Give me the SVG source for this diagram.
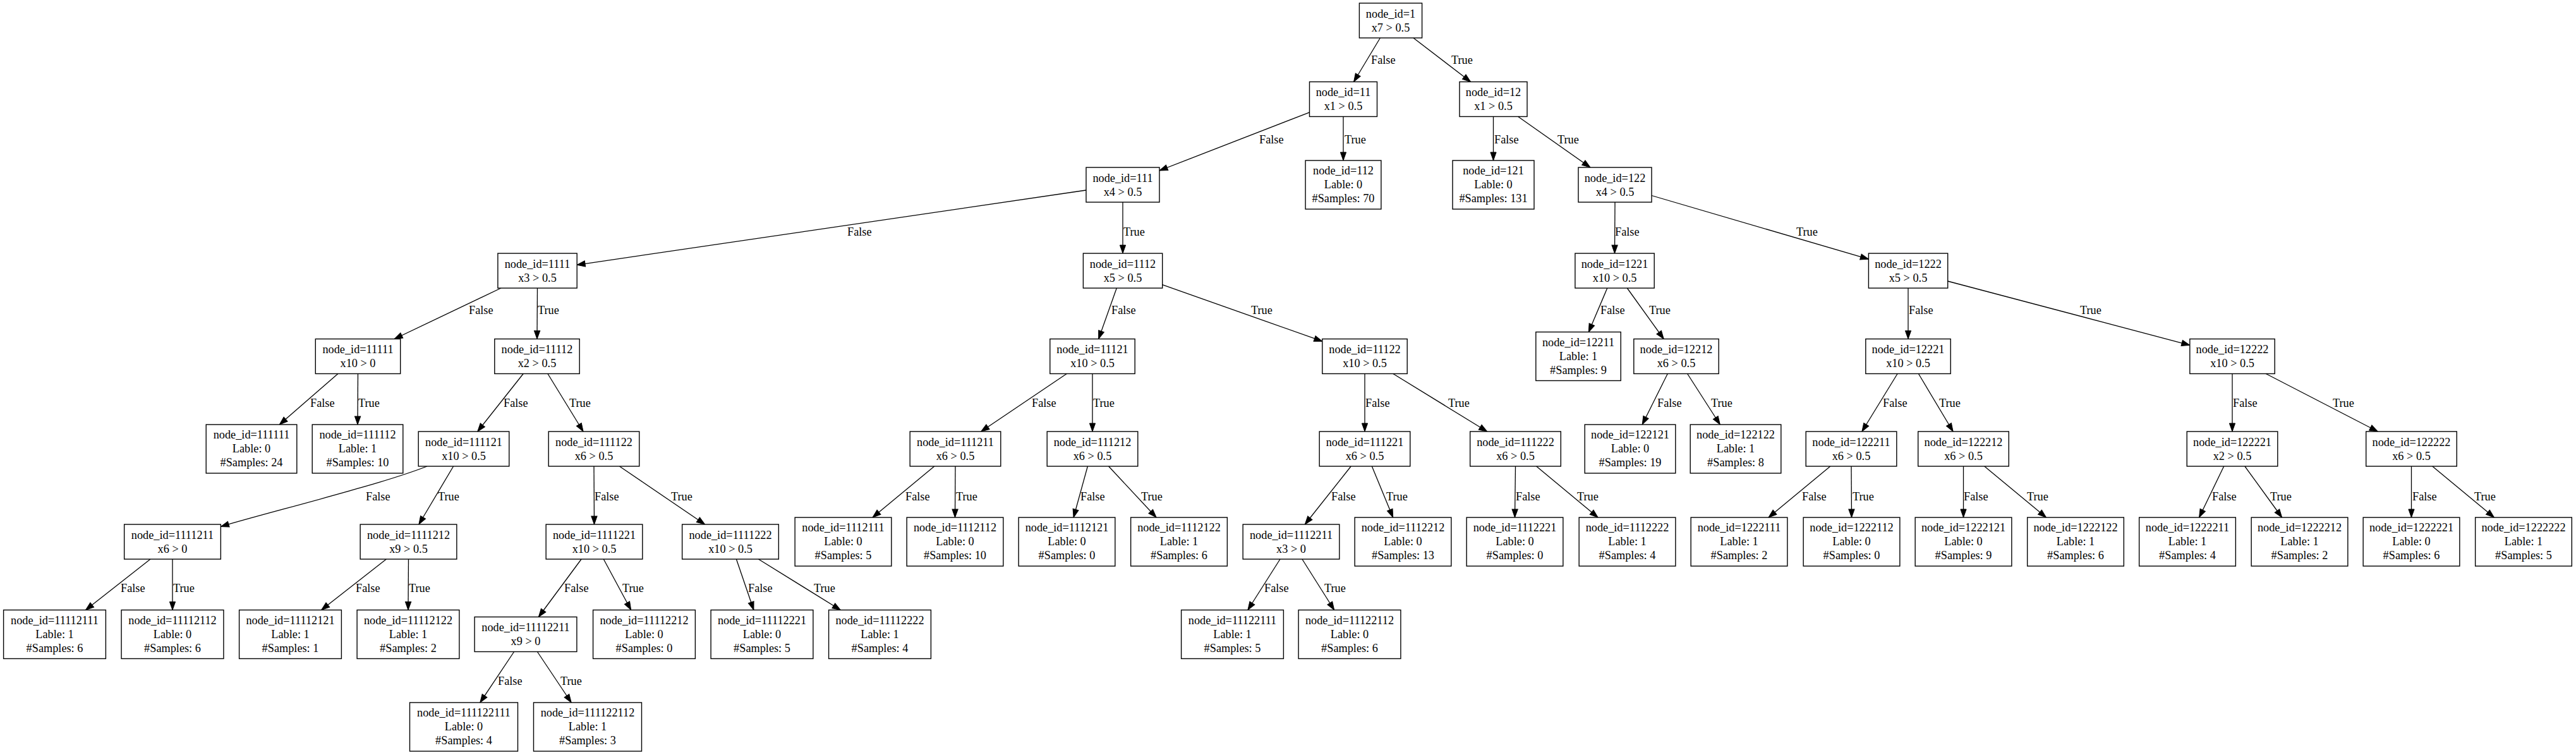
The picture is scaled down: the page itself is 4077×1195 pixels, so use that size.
<svg xmlns="http://www.w3.org/2000/svg" width="4077" height="1195" viewBox="0 0 4077 1195">
<style>
.nd rect{fill:#fff;stroke:#000;stroke-width:1.4}
text{font-family:"Liberation Serif","Times New Roman",serif;font-size:18.27px;fill:#000}
.nd text{text-anchor:middle}
.e line,.e path{stroke:#000;stroke-width:1.3;fill:none;marker-end:url(#ah)}
.e text{text-anchor:start}
</style>
<defs>
<marker id="ah" markerUnits="userSpaceOnUse" markerWidth="14" markerHeight="10" refX="13" refY="5" orient="auto" overflow="visible">
<path d="M0,0.4 L13,5 L0,9.6 z" fill="#000" stroke="#000" stroke-width="1"/>
</marker>
</defs>
<rect width="4077" height="1195" fill="#fff"/>
<g id="edges" class="e">
<line x1="2184.4" y1="60" x2="2142.6" y2="129.5"/><text x="2170" y="101">False</text>
<line x1="2236.9" y1="60" x2="2327.6" y2="129.5"/><text x="2297" y="101">True</text>
<line x1="2072.5" y1="177.8" x2="1835" y2="270"/><text x="1993" y="227">False</text>
<line x1="2126" y1="184.5" x2="2126" y2="254"/><text x="2128" y="227">True</text>
<line x1="2363.5" y1="184.5" x2="2363.5" y2="254"/><text x="2365" y="227">False</text>
<line x1="2402.6" y1="184.5" x2="2516.9" y2="265"/><text x="2465" y="227">True</text>
<line x1="1719" y1="301" x2="913.1" y2="419.3"/><text x="1341" y="373">False</text>
<line x1="1777" y1="320" x2="1777" y2="401"/><text x="1778" y="373">True</text>
<line x1="2556" y1="320" x2="2555.5" y2="401"/><text x="2556" y="373">False</text>
<line x1="2614" y1="309.5" x2="2957.4" y2="410.2"/><text x="2843" y="373">True</text>
<line x1="792.9" y1="456" x2="624.1" y2="536.5"/><text x="742" y="497">False</text>
<line x1="850.5" y1="456" x2="850" y2="536.5"/><text x="851" y="497">True</text>
<line x1="1767.3" y1="456" x2="1738.7" y2="536.5"/><text x="1759" y="497">False</text>
<line x1="1839.6" y1="450.6" x2="2092.8" y2="540.2"/><text x="1980" y="497">True</text>
<line x1="2543.8" y1="456" x2="2514.3" y2="525.5"/><text x="2533" y="497">False</text>
<line x1="2575.3" y1="456" x2="2633.2" y2="536.5"/><text x="2610" y="497">True</text>
<line x1="3020" y1="456" x2="3020" y2="536.5"/><text x="3021" y="497">False</text>
<line x1="3082.6" y1="445" x2="3465.8" y2="546.3"/><text x="3292" y="497">True</text>
<line x1="534.9" y1="591.5" x2="442.3" y2="672"/><text x="491" y="644">False</text>
<line x1="566.5" y1="591.5" x2="566" y2="672"/><text x="567" y="644">True</text>
<line x1="828.2" y1="591.5" x2="755.8" y2="683"/><text x="797" y="644">False</text>
<line x1="866.9" y1="591.5" x2="923.1" y2="683"/><text x="901" y="644">True</text>
<line x1="1688.3" y1="591.5" x2="1552.7" y2="683"/><text x="1633" y="644">False</text>
<line x1="1729" y1="591.5" x2="1729" y2="683"/><text x="1730" y="644">True</text>
<line x1="2160" y1="591.5" x2="2160" y2="683"/><text x="2161" y="644">False</text>
<line x1="2204.8" y1="591.5" x2="2353.7" y2="683"/><text x="2292" y="644">True</text>
<line x1="2639.3" y1="591.5" x2="2599.2" y2="672"/><text x="2623" y="644">False</text>
<line x1="2670.6" y1="591.5" x2="2722.3" y2="672"/><text x="2708" y="644">True</text>
<line x1="3003.1" y1="591.5" x2="2946.9" y2="683"/><text x="2980" y="644">False</text>
<line x1="3036.4" y1="591.5" x2="3091.1" y2="683"/><text x="3069" y="644">True</text>
<line x1="3533" y1="591.5" x2="3533" y2="683"/><text x="3534" y="644">False</text>
<line x1="3586.2" y1="591.5" x2="3763.3" y2="683"/><text x="3692" y="644">True</text>
<path d="M676,738 C600,768 420,812 349.4,833.5"/><text x="579" y="792">False</text>
<line x1="717.6" y1="738" x2="662.9" y2="830"/><text x="693" y="792">True</text>
<line x1="940" y1="738" x2="940.5" y2="830"/><text x="941" y="792">False</text>
<line x1="980.4" y1="738" x2="1115.6" y2="830"/><text x="1062" y="792">True</text>
<line x1="1478.8" y1="738" x2="1381" y2="819"/><text x="1433" y="792">False</text>
<line x1="1512" y1="738" x2="1511.5" y2="819"/><text x="1513" y="792">True</text>
<line x1="1721.4" y1="738" x2="1699.1" y2="819"/><text x="1710" y="792">False</text>
<line x1="1754.6" y1="738" x2="1830.1" y2="819"/><text x="1806" y="792">True</text>
<line x1="2138.2" y1="738" x2="2065.3" y2="830"/><text x="2107" y="792">False</text>
<line x1="2171.3" y1="738" x2="2204.7" y2="819"/><text x="2194" y="792">True</text>
<line x1="2398.5" y1="738" x2="2397.5" y2="819"/><text x="2399" y="792">False</text>
<line x1="2431.6" y1="738" x2="2529.1" y2="819"/><text x="2496" y="792">True</text>
<line x1="2896.8" y1="738" x2="2799" y2="819"/><text x="2852" y="792">False</text>
<line x1="2930" y1="738" x2="2930.5" y2="819"/><text x="2932" y="792">True</text>
<line x1="3107.5" y1="738" x2="3107.5" y2="819"/><text x="3108" y="792">False</text>
<line x1="3140.7" y1="738" x2="3238.5" y2="819"/><text x="3208" y="792">True</text>
<line x1="3519.7" y1="738" x2="3480.6" y2="819"/><text x="3501" y="792">False</text>
<line x1="3552.9" y1="738" x2="3611.6" y2="819"/><text x="3593" y="792">True</text>
<line x1="3816.5" y1="738" x2="3816.5" y2="819"/><text x="3818" y="792">False</text>
<line x1="3849.7" y1="738" x2="3947.5" y2="819"/><text x="3916" y="792">True</text>
<line x1="238" y1="885" x2="135.5" y2="965.5"/><text x="191" y="937">False</text>
<line x1="273" y1="885" x2="273" y2="965.5"/><text x="274" y="937">True</text>
<line x1="611.4" y1="885" x2="508.6" y2="965.5"/><text x="563" y="937">False</text>
<line x1="646.5" y1="885" x2="646" y2="965.5"/><text x="647" y="937">True</text>
<line x1="920.1" y1="885" x2="852.4" y2="976.5"/><text x="893" y="937">False</text>
<line x1="955.3" y1="885" x2="998.7" y2="965.5"/><text x="985" y="937">True</text>
<line x1="1165.4" y1="885" x2="1192.9" y2="965.5"/><text x="1184" y="937">False</text>
<line x1="1200.4" y1="885" x2="1330.3" y2="965.5"/><text x="1288" y="937">True</text>
<line x1="2026" y1="885" x2="1974.9" y2="965.5"/><text x="2001" y="937">False</text>
<line x1="2060.9" y1="885" x2="2111.7" y2="965.5"/><text x="2096" y="937">True</text>
<line x1="813.6" y1="1031.5" x2="759.8" y2="1112"/><text x="788" y="1084">False</text>
<line x1="850.4" y1="1031.5" x2="904.2" y2="1112"/><text x="887" y="1084">True</text>
</g>
<g class="nd">
<g id="n1" transform="translate(2201,32.5)"><rect x="-49.6" y="-27.5" width="99.2" height="55"/><text y="-5">node_id=1</text><text y="17">x7 &gt; 0.5</text></g>
<g id="n11" transform="translate(2126,157)"><rect x="-53.5" y="-27.5" width="107" height="55"/><text y="-5">node_id=11</text><text y="17">x1 &gt; 0.5</text></g>
<g id="n12" transform="translate(2363.5,157)"><rect x="-53.5" y="-27.5" width="107" height="55"/><text y="-5">node_id=12</text><text y="17">x1 &gt; 0.5</text></g>
<g id="n111" transform="translate(1777,292.5)"><rect x="-58" y="-27.5" width="116" height="55"/><text y="-5">node_id=111</text><text y="17">x4 &gt; 0.5</text></g>
<g id="n112" transform="translate(2126,292.5)"><rect x="-59.9" y="-38.5" width="119.8" height="77"/><text y="-16.2">node_id=112</text><text y="5.7">Lable: 0</text><text y="27.6">#Samples: 70</text></g>
<g id="n121" transform="translate(2363.5,292.5)"><rect x="-64.5" y="-38.5" width="129" height="77"/><text y="-16.2">node_id=121</text><text y="5.7">Lable: 0</text><text y="27.6">#Samples: 131</text></g>
<g id="n122" transform="translate(2556,292.5)"><rect x="-58" y="-27.5" width="116" height="55"/><text y="-5">node_id=122</text><text y="17">x4 &gt; 0.5</text></g>
<g id="n1111" transform="translate(850.5,428.5)"><rect x="-62.6" y="-27.5" width="125.3" height="55"/><text y="-5">node_id=1111</text><text y="17">x3 &gt; 0.5</text></g>
<g id="n1112" transform="translate(1777,428.5)"><rect x="-62.6" y="-27.5" width="125.3" height="55"/><text y="-5">node_id=1112</text><text y="17">x5 &gt; 0.5</text></g>
<g id="n1221" transform="translate(2555.5,428.5)"><rect x="-62.6" y="-27.5" width="125.3" height="55"/><text y="-5">node_id=1221</text><text y="17">x10 &gt; 0.5</text></g>
<g id="n1222" transform="translate(3020,428.5)"><rect x="-62.6" y="-27.5" width="125.3" height="55"/><text y="-5">node_id=1222</text><text y="17">x5 &gt; 0.5</text></g>
<g id="n11111" transform="translate(566.5,564)"><rect x="-67.2" y="-27.5" width="134.4" height="55"/><text y="-5">node_id=11111</text><text y="17">x10 &gt; 0</text></g>
<g id="n11112" transform="translate(850,564)"><rect x="-67.2" y="-27.5" width="134.4" height="55"/><text y="-5">node_id=11112</text><text y="17">x2 &gt; 0.5</text></g>
<g id="n11121" transform="translate(1729,564)"><rect x="-67.2" y="-27.5" width="134.4" height="55"/><text y="-5">node_id=11121</text><text y="17">x10 &gt; 0.5</text></g>
<g id="n11122" transform="translate(2160,564)"><rect x="-67.2" y="-27.5" width="134.4" height="55"/><text y="-5">node_id=11122</text><text y="17">x10 &gt; 0.5</text></g>
<g id="n12211" transform="translate(2498,564)"><rect x="-67.2" y="-38.5" width="134.4" height="77"/><text y="-16.2">node_id=12211</text><text y="5.7">Lable: 1</text><text y="27.6">#Samples: 9</text></g>
<g id="n12212" transform="translate(2653,564)"><rect x="-67.2" y="-27.5" width="134.4" height="55"/><text y="-5">node_id=12212</text><text y="17">x6 &gt; 0.5</text></g>
<g id="n12221" transform="translate(3020,564)"><rect x="-67.2" y="-27.5" width="134.4" height="55"/><text y="-5">node_id=12221</text><text y="17">x10 &gt; 0.5</text></g>
<g id="n12222" transform="translate(3533,564)"><rect x="-67.2" y="-27.5" width="134.4" height="55"/><text y="-5">node_id=12222</text><text y="17">x10 &gt; 0.5</text></g>
<g id="n111111" transform="translate(398,710.5)"><rect x="-71.8" y="-38.5" width="143.6" height="77"/><text y="-16.2">node_id=111111</text><text y="5.7">Lable: 0</text><text y="27.6">#Samples: 24</text></g>
<g id="n111112" transform="translate(566,710.5)"><rect x="-71.8" y="-38.5" width="143.6" height="77"/><text y="-16.2">node_id=111112</text><text y="5.7">Lable: 1</text><text y="27.6">#Samples: 10</text></g>
<g id="n111121" transform="translate(734,710.5)"><rect x="-71.8" y="-27.5" width="143.6" height="55"/><text y="-5">node_id=111121</text><text y="17">x10 &gt; 0.5</text></g>
<g id="n111122" transform="translate(940,710.5)"><rect x="-71.8" y="-27.5" width="143.6" height="55"/><text y="-5">node_id=111122</text><text y="17">x6 &gt; 0.5</text></g>
<g id="n111211" transform="translate(1512,710.5)"><rect x="-71.8" y="-27.5" width="143.6" height="55"/><text y="-5">node_id=111211</text><text y="17">x6 &gt; 0.5</text></g>
<g id="n111212" transform="translate(1729,710.5)"><rect x="-71.8" y="-27.5" width="143.6" height="55"/><text y="-5">node_id=111212</text><text y="17">x6 &gt; 0.5</text></g>
<g id="n111221" transform="translate(2160,710.5)"><rect x="-71.8" y="-27.5" width="143.6" height="55"/><text y="-5">node_id=111221</text><text y="17">x6 &gt; 0.5</text></g>
<g id="n111222" transform="translate(2398.5,710.5)"><rect x="-71.8" y="-27.5" width="143.6" height="55"/><text y="-5">node_id=111222</text><text y="17">x6 &gt; 0.5</text></g>
<g id="n122121" transform="translate(2580,710.5)"><rect x="-71.8" y="-38.5" width="143.6" height="77"/><text y="-16.2">node_id=122121</text><text y="5.7">Lable: 0</text><text y="27.6">#Samples: 19</text></g>
<g id="n122122" transform="translate(2747,710.5)"><rect x="-71.8" y="-38.5" width="143.6" height="77"/><text y="-16.2">node_id=122122</text><text y="5.7">Lable: 1</text><text y="27.6">#Samples: 8</text></g>
<g id="n122211" transform="translate(2930,710.5)"><rect x="-71.8" y="-27.5" width="143.6" height="55"/><text y="-5">node_id=122211</text><text y="17">x6 &gt; 0.5</text></g>
<g id="n122212" transform="translate(3107.5,710.5)"><rect x="-71.8" y="-27.5" width="143.6" height="55"/><text y="-5">node_id=122212</text><text y="17">x6 &gt; 0.5</text></g>
<g id="n122221" transform="translate(3533,710.5)"><rect x="-71.8" y="-27.5" width="143.6" height="55"/><text y="-5">node_id=122221</text><text y="17">x2 &gt; 0.5</text></g>
<g id="n122222" transform="translate(3816.5,710.5)"><rect x="-71.8" y="-27.5" width="143.6" height="55"/><text y="-5">node_id=122222</text><text y="17">x6 &gt; 0.5</text></g>
<g id="n1111211" transform="translate(273,857.5)"><rect x="-76.35" y="-27.5" width="152.7" height="55"/><text y="-5">node_id=1111211</text><text y="17">x6 &gt; 0</text></g>
<g id="n1111212" transform="translate(646.5,857.5)"><rect x="-76.35" y="-27.5" width="152.7" height="55"/><text y="-5">node_id=1111212</text><text y="17">x9 &gt; 0.5</text></g>
<g id="n1111221" transform="translate(940.5,857.5)"><rect x="-76.35" y="-27.5" width="152.7" height="55"/><text y="-5">node_id=1111221</text><text y="17">x10 &gt; 0.5</text></g>
<g id="n1111222" transform="translate(1156,857.5)"><rect x="-76.35" y="-27.5" width="152.7" height="55"/><text y="-5">node_id=1111222</text><text y="17">x10 &gt; 0.5</text></g>
<g id="n1112111" transform="translate(1334.5,857.5)"><rect x="-76.35" y="-38.5" width="152.7" height="77"/><text y="-16.2">node_id=1112111</text><text y="5.7">Lable: 0</text><text y="27.6">#Samples: 5</text></g>
<g id="n1112112" transform="translate(1511.5,857.5)"><rect x="-76.35" y="-38.5" width="152.7" height="77"/><text y="-16.2">node_id=1112112</text><text y="5.7">Lable: 0</text><text y="27.6">#Samples: 10</text></g>
<g id="n1112121" transform="translate(1688.5,857.5)"><rect x="-76.35" y="-38.5" width="152.7" height="77"/><text y="-16.2">node_id=1112121</text><text y="5.7">Lable: 0</text><text y="27.6">#Samples: 0</text></g>
<g id="n1112122" transform="translate(1866,857.5)"><rect x="-76.35" y="-38.5" width="152.7" height="77"/><text y="-16.2">node_id=1112122</text><text y="5.7">Lable: 1</text><text y="27.6">#Samples: 6</text></g>
<g id="n1112211" transform="translate(2043.5,857.5)"><rect x="-76.35" y="-27.5" width="152.7" height="55"/><text y="-5">node_id=1112211</text><text y="17">x3 &gt; 0</text></g>
<g id="n1112212" transform="translate(2220.5,857.5)"><rect x="-76.35" y="-38.5" width="152.7" height="77"/><text y="-16.2">node_id=1112212</text><text y="5.7">Lable: 0</text><text y="27.6">#Samples: 13</text></g>
<g id="n1112221" transform="translate(2397.5,857.5)"><rect x="-76.35" y="-38.5" width="152.7" height="77"/><text y="-16.2">node_id=1112221</text><text y="5.7">Lable: 0</text><text y="27.6">#Samples: 0</text></g>
<g id="n1112222" transform="translate(2575.5,857.5)"><rect x="-76.35" y="-38.5" width="152.7" height="77"/><text y="-16.2">node_id=1112222</text><text y="5.7">Lable: 1</text><text y="27.6">#Samples: 4</text></g>
<g id="n1222111" transform="translate(2752.5,857.5)"><rect x="-76.35" y="-38.5" width="152.7" height="77"/><text y="-16.2">node_id=1222111</text><text y="5.7">Lable: 1</text><text y="27.6">#Samples: 2</text></g>
<g id="n1222112" transform="translate(2930.5,857.5)"><rect x="-76.35" y="-38.5" width="152.7" height="77"/><text y="-16.2">node_id=1222112</text><text y="5.7">Lable: 0</text><text y="27.6">#Samples: 0</text></g>
<g id="n1222121" transform="translate(3107.5,857.5)"><rect x="-76.35" y="-38.5" width="152.7" height="77"/><text y="-16.2">node_id=1222121</text><text y="5.7">Lable: 0</text><text y="27.6">#Samples: 9</text></g>
<g id="n1222122" transform="translate(3285,857.5)"><rect x="-76.35" y="-38.5" width="152.7" height="77"/><text y="-16.2">node_id=1222122</text><text y="5.7">Lable: 1</text><text y="27.6">#Samples: 6</text></g>
<g id="n1222211" transform="translate(3462,857.5)"><rect x="-76.35" y="-38.5" width="152.7" height="77"/><text y="-16.2">node_id=1222211</text><text y="5.7">Lable: 1</text><text y="27.6">#Samples: 4</text></g>
<g id="n1222212" transform="translate(3639.5,857.5)"><rect x="-76.35" y="-38.5" width="152.7" height="77"/><text y="-16.2">node_id=1222212</text><text y="5.7">Lable: 1</text><text y="27.6">#Samples: 2</text></g>
<g id="n1222221" transform="translate(3816.5,857.5)"><rect x="-76.35" y="-38.5" width="152.7" height="77"/><text y="-16.2">node_id=1222221</text><text y="5.7">Lable: 0</text><text y="27.6">#Samples: 6</text></g>
<g id="n1222222" transform="translate(3994,857.5)"><rect x="-76.35" y="-38.5" width="152.7" height="77"/><text y="-16.2">node_id=1222222</text><text y="5.7">Lable: 1</text><text y="27.6">#Samples: 5</text></g>
<g id="n11112111" transform="translate(86.5,1004)"><rect x="-80.9" y="-38.5" width="161.8" height="77"/><text y="-16.2">node_id=11112111</text><text y="5.7">Lable: 1</text><text y="27.6">#Samples: 6</text></g>
<g id="n11112112" transform="translate(273,1004)"><rect x="-80.9" y="-38.5" width="161.8" height="77"/><text y="-16.2">node_id=11112112</text><text y="5.7">Lable: 0</text><text y="27.6">#Samples: 6</text></g>
<g id="n11112121" transform="translate(459.5,1004)"><rect x="-80.9" y="-38.5" width="161.8" height="77"/><text y="-16.2">node_id=11112121</text><text y="5.7">Lable: 1</text><text y="27.6">#Samples: 1</text></g>
<g id="n11112122" transform="translate(646,1004)"><rect x="-80.9" y="-38.5" width="161.8" height="77"/><text y="-16.2">node_id=11112122</text><text y="5.7">Lable: 1</text><text y="27.6">#Samples: 2</text></g>
<g id="n11112211" transform="translate(832,1004)"><rect x="-80.9" y="-27.5" width="161.8" height="55"/><text y="-5">node_id=11112211</text><text y="17">x9 &gt; 0</text></g>
<g id="n11112212" transform="translate(1019.5,1004)"><rect x="-80.9" y="-38.5" width="161.8" height="77"/><text y="-16.2">node_id=11112212</text><text y="5.7">Lable: 0</text><text y="27.6">#Samples: 0</text></g>
<g id="n11112221" transform="translate(1206,1004)"><rect x="-80.9" y="-38.5" width="161.8" height="77"/><text y="-16.2">node_id=11112221</text><text y="5.7">Lable: 0</text><text y="27.6">#Samples: 5</text></g>
<g id="n11112222" transform="translate(1392.5,1004)"><rect x="-80.9" y="-38.5" width="161.8" height="77"/><text y="-16.2">node_id=11112222</text><text y="5.7">Lable: 1</text><text y="27.6">#Samples: 4</text></g>
<g id="n11122111" transform="translate(1950.5,1004)"><rect x="-80.9" y="-38.5" width="161.8" height="77"/><text y="-16.2">node_id=11122111</text><text y="5.7">Lable: 1</text><text y="27.6">#Samples: 5</text></g>
<g id="n11122112" transform="translate(2136,1004)"><rect x="-80.9" y="-38.5" width="161.8" height="77"/><text y="-16.2">node_id=11122112</text><text y="5.7">Lable: 0</text><text y="27.6">#Samples: 6</text></g>
<g id="n111122111" transform="translate(734,1150.5)"><rect x="-85.5" y="-38.5" width="171" height="77"/><text y="-16.2">node_id=111122111</text><text y="5.7">Lable: 0</text><text y="27.6">#Samples: 4</text></g>
<g id="n111122112" transform="translate(930,1150.5)"><rect x="-85.5" y="-38.5" width="171" height="77"/><text y="-16.2">node_id=111122112</text><text y="5.7">Lable: 1</text><text y="27.6">#Samples: 3</text></g>
</g>
</svg>
